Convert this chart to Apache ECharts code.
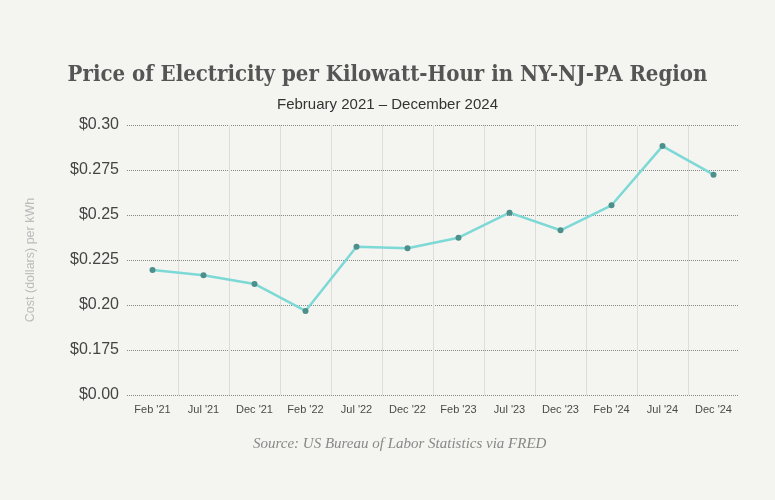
<!DOCTYPE html>
<html>
<head>
<meta charset="utf-8">
<script src="https://cdn.jsdelivr.net/npm/echarts@6/dist/echarts.min.js"></script>
<style>
html,body{margin:0;padding:0;background:#f4f4f0;}
#c{width:775px;height:500px;}
</style>
</head>
<body>
<div id="c"></div>
<script>
const categories = ["Feb '21","Jul '21","Dec '21","Feb '22","Jul '22","Dec '22","Feb '23","Jul '23","Dec '23","Feb '24","Jul '24","Dec '24"];
const prices = [0.2194,0.2165,0.2117,0.1967,0.2324,0.2315,0.2374,0.2513,0.2415,0.2554,0.2883,0.2724];
const yTickLabels = ["$0.00","$0.175","$0.20","$0.225","$0.25","$0.275","$0.30"];

const chart = echarts.init(document.getElementById('c'));
chart.setOption({
  backgroundColor: '#f4f4f0',
  animation: false,
  title: [
    {
      text: 'Price of Electricity per Kilowatt-Hour in NY-NJ-PA Region',
      left: 'center', top: 59,
      textStyle: {fontFamily: 'DejaVu Serif Condensed', fontWeight: 'bold', fontSize: 22, color: '#555'}
    },
    {
      text: 'February 2021 \u2013 December 2024',
      left: 'center', top: 92,
      textStyle: {fontFamily: 'Liberation Sans Narrow, Liberation Sans', fontWeight: 'normal', fontSize: 15, color: '#333'}
    },
    {
      text: 'Source: US Bureau of Labor Statistics via FRED',
      left: 248, top: 432,
      textStyle: {fontFamily: 'Liberation Serif', fontStyle: 'italic', fontWeight: 'normal', fontSize: 15, color: '#888'}
    }
  ],
  grid: {left: 127, right: 36, top: 125, bottom: 105, containLabel: false},
  xAxis: {
    type: 'category',
    data: categories,
    boundaryGap: true,
    axisLine: {show: false},
    axisTick: {show: false},
    axisLabel: {fontFamily: 'Liberation Sans', fontSize: 11, color: '#4a4a4a', margin: 9, interval: 0},
    splitLine: {show: true, showMinLine: false, showMaxLine: false, lineStyle: {color: '#dcdcd8', width: 1, type: 'solid'}}
  },
  yAxis: {
    type: 'value',
    min: 0.15, max: 0.30, interval: 0.025,
    name: 'Cost (dollars) per kWh',
    nameLocation: 'middle',
    nameGap: 90,
    nameTextStyle: {fontFamily: 'Liberation Sans', fontSize: 12.5, color: '#bbb'},
    axisLine: {show: false},
    axisTick: {show: false},
    axisLabel: {
      fontFamily: 'Liberation Sans', fontSize: 16, color: '#444', margin: 8,
      formatter: function (v, i) { return yTickLabels[i]; }
    },
    splitLine: {show: true, lineStyle: {color: '#888', width: 1, type: 'dotted'}}
  },
  series: [{
    type: 'line',
    data: prices,
    symbol: 'circle',
    symbolSize: 6,
    lineStyle: {color: '#7dd9d6', width: 2.5},
    itemStyle: {color: '#4d8f8b', borderWidth: 0},
    z: 3
  }]
});
</script>
</body>
</html>
